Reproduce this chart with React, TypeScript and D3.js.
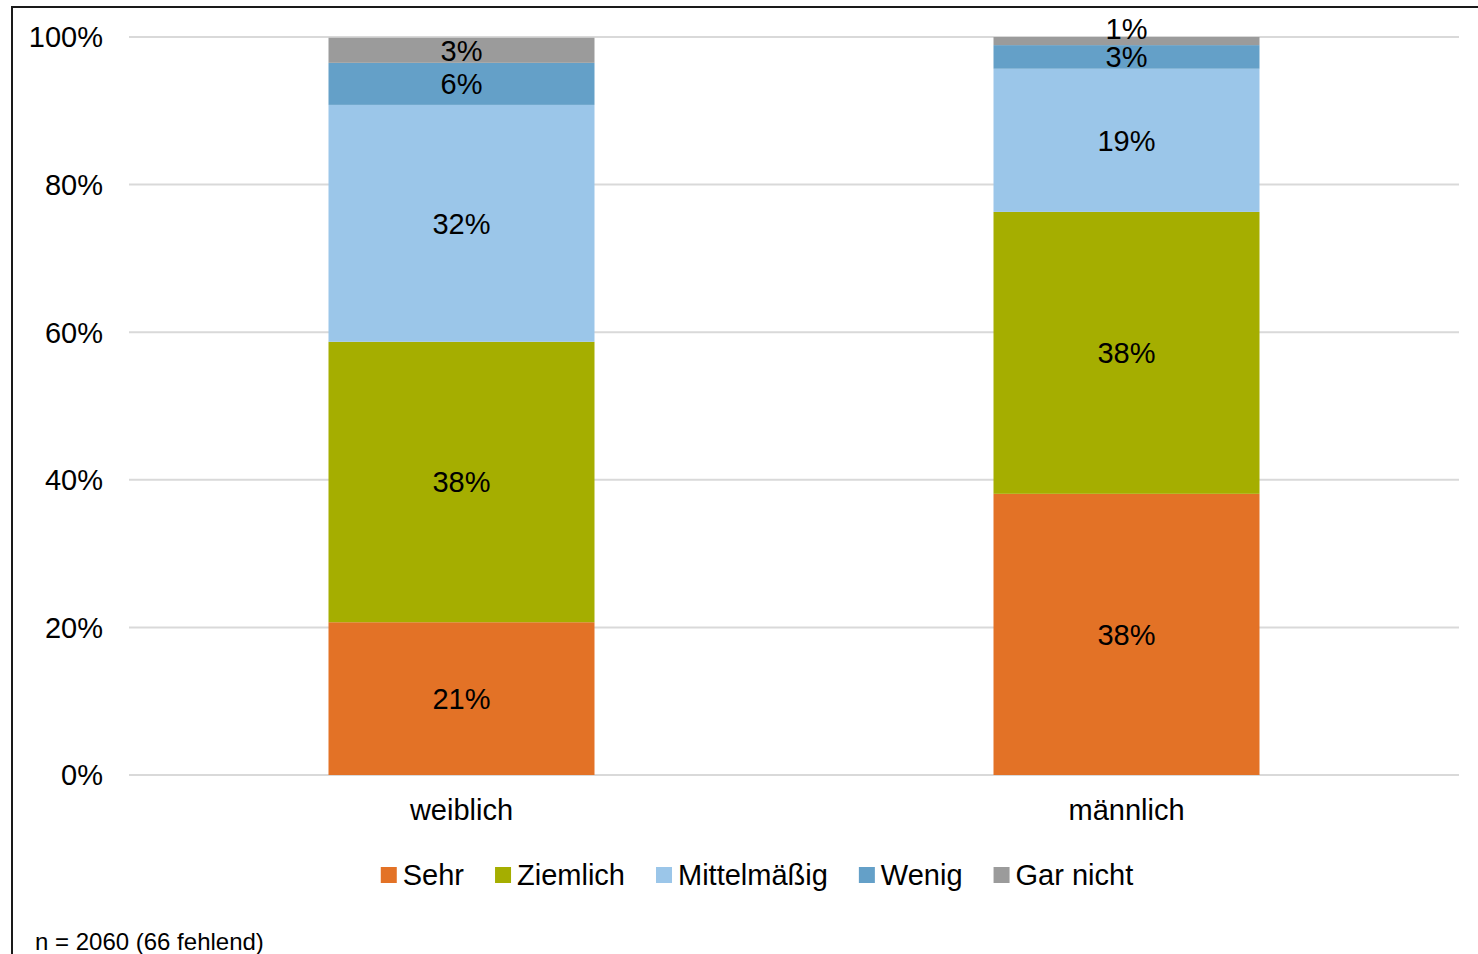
import React, { useEffect, useRef } from 'react';
import * as d3 from 'd3';

// categories + series (percent shares)
const categories = ['weiblich', 'männlich'];
const seriesNames = ['Sehr', 'Ziemlich', 'Mittelmäßig', 'Wenig', 'Gar nicht'];
const sehr = [20.7, 38.1];
const ziemlich = [38.0, 38.2];
const mittelmaessig = [32.1, 19.4];
const wenig = [5.7, 3.2];
const garNicht = [3.4, 1.1];
const yTicks = [0, 0.2, 0.4, 0.6, 0.8, 1];
const colors = ['#e37226', '#a5ae00', '#9bc6e9', '#64a0c8', '#9b9b9b'];
const footnote = 'n = 2060 (66 fehlend)';

const W = 1478;
const H = 954;
const FONT = '"Liberation Sans", Arial, sans-serif';

const App = () => {
  const svgRef = useRef<SVGSVGElement>(null);

  useEffect(() => {
    const svg = d3.select(svgRef.current);
    svg.selectAll('*').remove();

    const margin = { left: 129, right: 19, top: 37, bottom: 179 };
    const values = [sehr, ziemlich, mittelmaessig, wenig, garNicht];
    const rows = categories.map((c, i) => {
      const r: any = { cat: c };
      seriesNames.forEach((s, j) => (r[s] = values[j][i]));
      return r;
    });
    const stacked = d3.stack().keys(seriesNames)(rows);

    const x = d3.scaleBand().domain(categories)
      .range([margin.left, W - margin.right]).paddingInner(0.6).paddingOuter(0.3);
    const y = d3.scaleLinear().domain([0, 1]).range([H - margin.bottom, margin.top]);
    const color = d3.scaleOrdinal<string>().domain(seriesNames).range(colors);

    svg.append('rect').attr('width', W).attr('height', H).attr('fill', '#fff');

    // frame
    svg.append('path')
      .attr('d', `M12,${H + 5}V7H${W + 5}`)
      .attr('fill', 'none').attr('stroke', '#1a1a1a').attr('stroke-width', 2);

    // gridlines
    svg.append('g').selectAll('line').data(yTicks).enter().append('line')
      .attr('x1', margin.left).attr('x2', W - margin.right)
      .attr('y1', d => y(d)).attr('y2', d => y(d))
      .attr('stroke', '#d9d9d9').attr('stroke-width', 2);

    svg.append('g').selectAll('text').data(yTicks).enter().append('text')
      .attr('x', 103).attr('y', d => y(d)).attr('dy', '0.36em')
      .attr('text-anchor', 'end')
      .style('font', `29px ${FONT}`).attr('fill', '#000')
      .text(d => d3.format('.0%')(d));

    // bars
    const groups = svg.append('g').selectAll('g').data(stacked).enter().append('g')
      .attr('fill', d => color(d.key));
    groups.selectAll('rect').data(d => d).enter().append('rect')
      .attr('x', d => x(d.data.cat as string)!)
      .attr('width', x.bandwidth())
      .attr('y', d => y(d[1] / 100))
      .attr('height', d => y(d[0] / 100) - y(d[1] / 100));

    // segment labels, pushed up when they collide with the one below
    const labels = svg.append('g');
    categories.forEach((c, ci) => {
      let prevY = Infinity;
      stacked.forEach(s => {
        const d = s[ci];
        let ly = (y(d[0] / 100) + y(d[1] / 100)) / 2;
        if (prevY - ly < 24) ly = prevY - 28;
        prevY = ly;
        labels.append('text')
          .attr('x', x(c)! + x.bandwidth() / 2).attr('y', ly).attr('dy', '0.36em')
          .attr('text-anchor', 'middle')
          .style('font', `29px ${FONT}`).attr('fill', '#000')
          .text(Math.round(d[1] - d[0]) + '%');
      });
    });

    // category axis labels
    svg.append('g').selectAll('text').data(categories).enter().append('text')
      .attr('x', d => x(d)! + x.bandwidth() / 2).attr('y', 810).attr('dy', '0.36em')
      .attr('text-anchor', 'middle')
      .style('font', `29px ${FONT}`).attr('fill', '#000')
      .text(d => d);

    // legend
    const legend = svg.append('g');
    const items = seriesNames.map(name => {
      const g = legend.append('g');
      g.append('rect').attr('width', 16).attr('height', 16).attr('y', -8).attr('fill', color(name));
      const t = g.append('text').attr('x', 22).attr('dy', '0.36em')
        .style('font', `29px ${FONT}`).attr('fill', '#000').text(name);
      const w = 22 + (t.node() as SVGTextElement).getComputedTextLength();
      return { g, w };
    });
    const gap = 31;
    const total = d3.sum(items, d => d.w) + gap * (items.length - 1);
    let lx = 757 - total / 2;
    items.forEach(it => {
      it.g.attr('transform', `translate(${lx},875)`);
      lx += it.w + gap;
    });

    svg.append('text')
      .attr('x', 35).attr('y', 950)
      .style('font', `24px ${FONT}`).attr('fill', '#000')
      .text(footnote);
  });

  return (
    <svg ref={svgRef} width={W} height={H}
      style={{ position: 'absolute', left: 0, top: 0, display: 'block' }} />
  );
};

export default App;
